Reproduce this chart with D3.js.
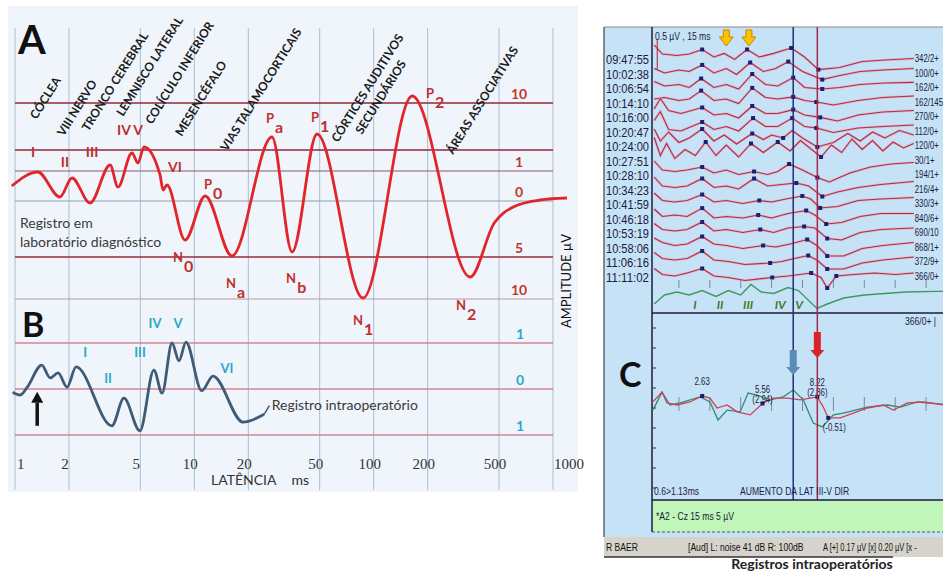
<!DOCTYPE html>
<html>
<head>
<meta charset="utf-8">
<script src="https://cdn.jsdelivr.net/npm/d3@7"></script>
<style>
  body { margin: 0; background: #fff; }
  text { font-family: Lato, "Open Sans", sans-serif; }
  .narrow { font-family: "Liberation Sans Narrow", "Arial Narrow", "Liberation Sans", sans-serif; }
</style>
</head>
<body>
<script>
// ---- data: schematic panels A / B ----
const latencyTicks = [1, 2, 5, 10, 20, 50, 100, 200, 500, 1000];

// amplitude reference lines (schematic µV)
const rowsA = [9.8, 5.1, 3, 0, -5.6, -9.8];
const rowLabelsA = ["10", "", "1", "0", "5", "10"];
const rowsB = [1, 0, -1];
const rowLabelsB = ["1", "0", "1"];

// waveform A, laboratory recording: [latency ms, amplitude]
const waveA = [[0.96,1.5],[1.34,2.9],[1.78,0.4],[2.08,2.3],[2.62,-0.2],[3.39,3.6],[3.75,1.4],[4.49,4.8],
  [4.85,3.8],[5.24,5.4],[6.44,2.6],[6.69,1.1],[7.04,1.6],[8.87,-3.9],[11.5,0.5],[16.2,-5.5],[27.1,6.4],
  [35.1,-5.1],[48.3,6.7],[87.2,-9.7],[164,10.5],[345,-7.6],[470,-2.2],[600,-0.6],[847,0.1],[1197,0.3]];

// waveform B, intraoperative recording
const waveB = [[0.97,-0.07],[1.07,-0.13],[1.17,0.04],[1.41,0.52],[1.57,0.24],[1.74,0.35],[1.95,0.04],
  [2.19,0.48],[3.47,-0.8],[4.05,-0.2],[4.97,-0.91],[5.95,0.41],[6.61,-0.09],[7.51,1.0],[8.21,0.61],
  [8.98,1.02],[11.0,-0.04],[12.7,0.28],[18.7,-0.72],[24.5,-0.55]];
const leaderB = [[24.5,-0.55],[26.2,-0.36]];

// wave labels
const romanA = ["I", "II", "III", "IV V", "VI"];
const romanPosA = [[1.26,4.4],[1.9,3.4],[2.69,4.4],[4.38,6.6],[7.8,2.9]];
const compMainA = ["P", "N", "N", "P", "N", "P", "N", "P", "N"];
const compSubA = ["0", "0", "a", "a", "b", "1", "1", "2", "2"];
const compPosA = [[11.9,1.2],[8.0,-6.1],[15.8,-8.7],[26.4,7.8],[34.2,-8.2],[47.1,7.9],[80.7,-12.4],[206,10.3],[303,-10.9]];
const romanB = ["I", "II", "III", "IV", "V", "VI"];
const romanPosB = [[2.46,0.7],[3.3,0.13],[4.98,0.7],[6.04,1.33],[8.11,1.33],[15.2,0.35]];

// anatomical generators (rotated labels), anchor [ms, µV]
const anatomyNames = ["CÓCLEA", "VIII NERVO", "TRONCO CEREBRAL", "LEMNISCO LATERAL", "COLÍCULO INFERIOR",
  "MESENCÉFALO", "VIAS TALAMOCORTICAIS", "CÓRTICES AUDITIVOS", "SECUNDÁRIOS", "ÁREAS ASSOCIATIVAS"];
const anatomyPos = [[1.32,8.1],[1.87,6.4],[2.57,6.9],[4.0,8.4],[5.8,7.6],[8.5,6.4],[15.2,4.9],[63.2,5.8],[86.1,6.6],[277,4.6]];

// ---- data: panel C (intraoperative screen) ----
const cTimes = ["09:47:55","10:02:38","10:06:54","10:14:10","10:16:00","10:20:47","10:24:00","10:27:51",
  "10:28:10","10:34:23","10:41:59","10:46:18","10:53:19","10:58:06","11:06:16","11:11:02"];
const cCounts = ["342/2+","100/0+","162/0+","162/145","270/0+","112/0+","120/0+","30/1+",
  "194/1+","216/4+","330/3+","840/6+","690/10","868/1+","372/9+","366/0+"];
// each sweep: [ms, µV]
const cTraces = [
  [[0.3,0.4],[0.7,0.1],[1.4,0.05],[2.0,0.1],[2.63,0.25],[3.2,0.0],[3.7,0.12],[4.2,-0.08],[4.81,0.25],[5.4,0.0],[6.1,0.12],[6.95,0.3],[7.6,0.0],[8.27,-0.42],[9.3,-0.35],[10.4,-0.15],[11.5,-0.1],[12.9,-0.05]],
  [[0.3,0.1],[0.8,-0.05],[1.5,0.05],[2.0,0.0],[2.63,0.22],[3.2,-0.05],[3.8,0.1],[4.3,-0.1],[4.96,0.3],[5.6,0.0],[6.2,0.1],[6.81,0.33],[7.5,0.0],[8.46,-0.27],[9.2,-0.15],[10.3,0.0],[11.4,0.05],[12.9,0.1]],
  [[0.3,0.15],[0.8,0.0],[1.5,0.05],[2.0,-0.05],[2.58,0.25],[3.2,-0.05],[3.8,0.05],[4.4,-0.1],[5.06,0.4],[5.7,0.05],[6.3,0.0],[7.05,0.28],[7.6,-0.05],[8.46,-0.1],[9.3,-0.05],[10.3,0.05],[11.5,0.1],[12.9,0.12]],
  [[0.3,0.05],[0.8,0.1],[1.5,0.0],[2.0,0.05],[2.58,0.33],[3.2,0.0],[3.8,0.05],[4.4,-0.1],[5.06,0.42],[5.7,0.1],[6.3,0.05],[7.05,0.12],[7.6,0.0],[8.17,-0.05],[9.0,-0.15],[10.2,0.0],[11.4,0.1],[12.9,0.15]],
  [[0.3,0.2],[0.6,0.55],[1.0,0.15],[1.6,0.05],[2.63,0.25],[3.2,0.0],[3.8,0.05],[4.4,-0.1],[5.06,0.3],[5.7,0.05],[6.3,0.05],[7.05,0.18],[7.6,0.0],[8.36,-0.08],[9.2,-0.2],[10.2,0.0],[11.4,0.1],[12.9,0.15]],
  [[0.3,0.3],[0.6,0.6],[1.0,0.0],[1.6,-0.05],[2.63,0.25],[3.2,0.0],[3.8,0.1],[4.4,-0.05],[5.1,0.38],[5.7,0.1],[6.3,0.1],[7.0,0.38],[7.6,0.1],[8.17,0.05],[9.0,-0.1],[10.2,0.05],[11.4,0.1],[12.9,0.15]],
  [[0.3,0.5],[0.6,0.1],[1.0,0.4],[1.5,0.05],[2.0,0.2],[2.63,0.5],[3.2,0.1],[3.7,0.3],[4.3,0.0],[5.06,0.35],[5.6,0.15],[6.0,0.3],[6.56,0.2],[7.0,0.45],[7.5,0.2],[8.22,-0.1],[9.0,0.05],[9.7,0.35],[10.3,0.1],[10.9,0.4],[11.5,0.2],[12.2,0.45],[12.9,0.3]],
  [[0.3,0.7],[0.6,0.1],[0.9,0.5],[1.3,0.0],[1.8,0.3],[2.3,0.1],[2.8,0.55],[3.3,0.1],[3.8,0.45],[4.4,0.05],[5.0,0.5],[5.6,0.2],[6.3,0.55],[6.9,0.25],[7.4,0.6],[8.4,0.05],[8.9,0.45],[9.4,0.2],[9.9,0.65],[10.4,0.3],[10.9,0.6],[11.4,0.25],[11.9,0.55],[12.4,0.35],[12.9,0.5]],
  [[0.3,0.4],[0.7,0.1],[1.3,0.05],[1.9,0.1],[2.63,0.2],[3.2,0.0],[3.8,0.1],[4.4,-0.05],[5.15,0.05],[5.8,-0.05],[6.3,0.05],[6.85,0.3],[7.5,0.1],[8.22,-0.15],[8.8,-0.3],[9.8,0.0],[10.8,0.2],[11.8,0.3],[12.9,0.35]],
  [[0.3,0.35],[0.7,0.05],[1.3,0.0],[1.9,0.05],[2.63,0.3],[3.2,0.0],[3.8,0.05],[4.4,-0.05],[5.15,0.3],[5.8,0.05],[6.5,0.1],[7.2,0.15],[7.8,0.05],[8.46,-0.3],[9.2,-0.15],[10.2,0.0],[11.3,0.1],[12.9,0.2]],
  [[0.3,0.3],[0.7,0.05],[1.3,0.0],[1.9,0.05],[2.63,0.25],[3.2,0.0],[3.8,0.05],[4.6,-0.05],[5.4,0.05],[6.0,0.0],[6.7,0.1],[7.49,0.2],[7.9,0.1],[8.36,-0.2],[9.2,-0.15],[10.2,0.05],[11.3,0.1],[12.9,0.15]],
  [[0.3,0.25],[0.7,0.0],[1.3,0.05],[1.9,0.0],[2.63,0.28],[3.2,-0.05],[3.8,0.0],[4.6,-0.05],[5.35,0.05],[6.0,-0.05],[6.8,0.1],[7.68,0.2],[8.1,0.05],[8.65,-0.25],[9.4,-0.2],[10.3,0.0],[11.3,0.1],[12.9,0.1]],
  [[0.3,0.25],[0.7,0.05],[1.3,0.0],[1.9,0.05],[2.63,0.3],[3.2,0.0],[3.8,0.05],[4.6,-0.05],[5.45,0.05],[6.1,-0.05],[6.8,0.1],[7.58,0.15],[8.1,0.1],[8.7,-0.25],[9.4,-0.3],[10.3,-0.05],[11.3,0.05],[12.9,0.1]],
  [[0.3,0.25],[0.7,0.1],[1.3,0.0],[1.9,0.05],[2.63,0.3],[3.2,0.05],[3.8,0.0],[4.6,-0.1],[5.59,0.0],[6.2,-0.05],[6.9,0.05],[7.73,0.2],[8.2,0.0],[8.7,-0.35],[9.5,-0.35],[10.4,-0.1],[11.4,0.0],[12.9,0.1]],
  [[0.3,0.25],[0.7,0.05],[1.3,0.0],[1.9,0.05],[2.63,0.3],[3.2,0.0],[3.9,-0.05],[4.7,-0.15],[5.93,-0.1],[6.5,-0.05],[7.1,0.05],[7.78,0.15],[8.2,0.0],[8.7,-0.3],[9.5,-0.3],[10.4,-0.1],[11.4,0.0],[12.9,0.1]],
  [[0.3,0.2],[0.7,0.0],[1.3,-0.05],[1.9,0.05],[2.63,0.2],[3.2,-0.05],[3.9,-0.1],[4.7,-0.2],[6.03,-0.1],[6.8,-0.05],[7.92,0.05],[8.4,-0.1],[8.7,-0.45],[9.14,-0.05],[10.0,0.0],[11.0,0.05],[12.0,0.0],[12.9,0.05]]
];
// indices of the marked peaks in each sweep
const cDots = [[4,8,11,13],[4,8,11,13],[4,8,11,13],[4,8,11,13],[4,8,11,13],[4,8,11,13],[5,9,12,15],[6,10,12,15],
  [4,8,11,13],[4,8,11,13],[4,8,11,13],[4,8,11,13],[4,8,11,13],[4,8,11,13],[4,8,11,13],[4,8,10,12,13]];

// grand average (green) and its wave labels
const greenTrace = [[0.3,-0.3],[0.8,0.0],[1.4,0.1],[2.0,0.0],[2.63,0.15],[3.3,-0.05],[3.9,0.15],[4.5,0.0],[5.0,0.35],
  [5.5,0.1],[6.1,0.05],[6.8,0.25],[7.3,0.15],[8.2,-0.45],[8.7,-0.3],[9.5,-0.1],[10.5,0.0],[11.5,0.05],[12.5,0.1],[14.0,0.12],[15.0,0.12]];
const greenRoman = ["I", "II", "III", "IV", "V"];
const greenRomanT = [2.28, 3.5, 4.86, 6.42, 7.34];

// lower window: current (red) vs baseline (green)
const avgRed = [[0.19,0.07],[0.68,0.43],[0.92,0.07],[1.41,0],[2.04,0.1],[2.63,0.3],[3.01,0.23],[3.35,-0.1],[3.84,0],
  [4.33,-0.23],[4.96,-0.33],[5.56,0.05],[6.08,0.23],[6.76,0.23],[7.39,0.17],[8.22,0.27],[8.51,-0.07],[8.75,-0.43],
  [9.33,-0.43],[9.97,-0.27],[10.65,-0.1],[11.42,0],[11.91,-0.17],[12.59,0.07],[13.37,0.1],[14.34,0],[15,0.02]];
const avgGreen = [[0.24,-0.17],[0.68,0.43],[1.07,0],[1.56,0.07],[2.53,0.27],[3.01,0.1],[3.4,-0.5],[3.84,-0.17],
  [4.47,-0.23],[4.86,0.4],[5.3,0.33],[5.93,0.17],[6.56,0.27],[7.05,0.5],[7.54,0.17],[8.02,-0.6],[8.46,-0.73],
  [9.0,-0.33],[9.48,-0.27],[10.65,-0.07],[11.62,0],[12.25,-0.07],[13.08,0.1],[14.34,0.03],[15,0.03]];
const avgMarkIdx = [5, 11, 15, 17];
const avgMarkTop = ["2.63", "5.56", "8.22", ""];
const avgMarkLow = ["", "(2.94)", "(2.86)", "(-0.51)"];
const cursorT = [7.05, 8.22];     // blue (V) and red cursors, ms
const yellowT = [3.8, 4.9];       // markers on top

// ---- scales ----
const width = 943, height = 572;
const xL = d3.scaleLog().domain([1, 1000]).range([15, 553]);
const yA = d3.scaleLinear().domain([-10, 10]).range([301, 101]);
const yB = d3.scaleLinear().domain([-1, 1]).range([435, 343]);
const xC = d3.scaleLinear().domain([0, 15]).range([648, 957]);
const rowC = d3.scalePoint().domain(cTimes).range([60, 277.5]);
const ampC = d3.scaleLinear().domain([0, 1]).range([0, -30]);

const svg = d3.select("body").append("svg")
    .attr("width", width).attr("height", height)
    .style("display", "block");

// ================= panels A / B =================
svg.append("rect").attr("x", 8).attr("y", 6).attr("width", 570).attr("height", 486).attr("fill", "#eff5fb");

// vertical latency grid
svg.append("g").selectAll("line").data(latencyTicks).join("line")
    .attr("x1", d => xL(d)).attr("x2", d => xL(d))
    .attr("y1", 28).attr("y2", 490)
    .attr("stroke", "#a9bdd1").attr("stroke-width", 1);

// horizontal amplitude lines
const rowStyleA = ["#8e2a38", "#8e2a38", "#8a5a66", "#8fa0b4", "#9a2a3a", "#b99aa8"];
svg.append("g").selectAll("line").data(rowsA).join("line")
    .attr("x1", xL(1)).attr("x2", xL(1000))
    .attr("y1", d => yA(d)).attr("y2", d => yA(d))
    .attr("stroke", (d, i) => rowStyleA[i])
    .attr("stroke-width", (d, i) => (i === 0 || i === 1 || i === 4) ? 1.6 : 1.1);
svg.append("g").selectAll("line").data(rowsB).join("line")
    .attr("x1", xL(1)).attr("x2", xL(1000))
    .attr("y1", d => yB(d)).attr("y2", d => yB(d))
    .attr("stroke", "#d48494").attr("stroke-width", 1.4);

// amplitude labels on the right
svg.append("g").selectAll("text").data(rowsA).join("text")
    .attr("x", 519).attr("y", d => yA(d) - 4)
    .attr("text-anchor", "middle")
    .style("font-size", "14px").style("font-weight", "bold").attr("fill", "#c0392b")
    .text((d, i) => rowLabelsA[i]);
svg.append("g").selectAll("text").data(rowsB).join("text")
    .attr("x", 520).attr("y", d => yB(d) - 4)
    .attr("text-anchor", "middle")
    .style("font-size", "14px").style("font-weight", "bold").attr("fill", "#2aa9c9")
    .text((d, i) => rowLabelsB[i]);

// x axis labels
svg.append("g").selectAll("text").data(latencyTicks).join("text")
    .attr("x", (d, i) => i === 0 ? xL(d) + 2 : (i === latencyTicks.length - 1 ? xL(d) + 1 : xL(d) - 4))
    .attr("y", 469)
    .attr("text-anchor", (d, i) => (i === 0 || i === latencyTicks.length - 1) ? "start" : "middle")
    .style("font-family", "'Liberation Serif', 'DejaVu Serif', serif").style("font-size", "15px")
    .attr("fill", "#333")
    .text(d => d);
svg.append("text").attr("x", 211).attr("y", 485)
    .style("font-size", "14px").attr("fill", "#333")
    .text("LATÊNCIA").append("tspan").attr("dx", 15).text("ms");

// y axis title
svg.append("text")
    .attr("transform", "translate(571,281) rotate(-90)")
    .attr("text-anchor", "middle")
    .style("font-size", "13px").attr("fill", "#111")
    .text("AMPLITUDE µV");

// anatomical generators
svg.append("g").selectAll("text").data(anatomyPos).join("text")
    .attr("transform", d => `translate(${xL(d[0])},${yA(d[1])}) rotate(-58)`)
    .style("font-size", "12px").style("font-weight", "bold").attr("fill", "#1a1a1a")
    .text((d, i) => anatomyNames[i]);

// waveform A
const lineA = d3.line().x(d => xL(d[0])).y(d => yA(d[1])).curve(d3.curveMonotoneX);
svg.append("path").datum(waveA)
    .attr("d", lineA).attr("fill", "none")
    .attr("stroke", "#e1262b").attr("stroke-width", 2.8).attr("stroke-linejoin", "round");

// waveform B
const lineB = d3.line().x(d => xL(d[0])).y(d => yB(d[1])).curve(d3.curveMonotoneX);
svg.append("path").datum(waveB)
    .attr("d", lineB).attr("fill", "none")
    .attr("stroke", "#3f5b76").attr("stroke-width", 2.8).attr("stroke-linejoin", "round");
svg.append("path").datum(leaderB)
    .attr("d", d3.line().x(d => xL(d[0])).y(d => yB(d[1])))
    .attr("fill", "none").attr("stroke", "#3f5b76").attr("stroke-width", 1.5);

// wave labels A
svg.append("g").selectAll("text").data(romanPosA).join("text")
    .attr("x", d => xL(d[0])).attr("y", d => yA(d[1]))
    .attr("text-anchor", "middle")
    .style("font-size", "14px").style("font-weight", "bold").attr("fill", "#c0302e")
    .text((d, i) => romanA[i]);
const comp = svg.append("g").selectAll("text").data(compPosA).join("text")
    .attr("x", d => xL(d[0]) - 4).attr("y", d => yA(d[1]))
    .style("font-size", "13px").style("font-weight", "bold").attr("fill", "#c0302e")
    .text((d, i) => compMainA[i]);
comp.append("tspan").attr("dx", 1).attr("dy", 10).style("font-size", "16px")
    .text((d, i) => compSubA[i]);

// wave labels B
svg.append("g").selectAll("text").data(romanPosB).join("text")
    .attr("x", d => xL(d[0])).attr("y", d => yB(d[1]))
    .attr("text-anchor", "middle")
    .style("font-size", "13px").style("font-weight", "bold").attr("fill", "#2aa9c9")
    .text((d, i) => romanB[i]);

// stimulus arrow
const arrowX = xL(1.33);
svg.append("line").attr("x1", arrowX).attr("x2", arrowX)
    .attr("y1", yB(-0.8)).attr("y2", yB(-0.3))
    .attr("stroke", "#111").attr("stroke-width", 3.5);
svg.append("path")
    .attr("d", `M${arrowX - 6},${yB(-0.3)} L${arrowX},${yB(-0.3) - 11} L${arrowX + 6},${yB(-0.3)} Z`)
    .attr("fill", "#111");

// texts
svg.append("text").attr("x", 18).attr("y", 54)
    .style("font-size", "40px").style("font-weight", "bold").attr("fill", "#111").text("A");
svg.append("text").attr("x", 22).attr("y", 337)
    .style("font-size", "34px").style("font-weight", "bold").attr("fill", "#111").text("B");
svg.append("text").attr("x", 20).attr("y", 228)
    .style("font-size", "14px").attr("fill", "#3a3a3a").text("Registro em");
svg.append("text").attr("x", 20).attr("y", 247)
    .style("font-size", "14px").attr("fill", "#3a3a3a").text("laboratório diagnóstico");
svg.append("text").attr("x", xL(27)).attr("y", yB(-0.46))
    .style("font-size", "14px").attr("fill", "#3a3a3a").text("Registro intraoperatório");

// ================= panel C =================
const cLeft = 604, cAxis = 652, cTop = 27, cBottom = 537;
svg.append("rect").attr("x", cLeft).attr("y", cTop).attr("width", width - cLeft).attr("height", cBottom - cTop)
    .attr("fill", "#c6e2f7");
svg.append("line").attr("x1", cLeft).attr("x2", cLeft).attr("y1", cTop).attr("y2", cBottom)
    .attr("stroke", "#666").attr("stroke-width", 1.5);
svg.append("line").attr("x1", cLeft).attr("x2", width).attr("y1", cTop).attr("y2", cTop)
    .attr("stroke", "#8a8a8a").attr("stroke-width", 1);
svg.append("line").attr("x1", cAxis).attr("x2", cAxis).attr("y1", cTop).attr("y2", 532)
    .attr("stroke", "#1c1c3a").attr("stroke-width", 1.5);
svg.append("line").attr("x1", cAxis).attr("x2", width).attr("y1", 313).attr("y2", 313)
    .attr("stroke", "#1c1c3a").attr("stroke-width", 1.5);

// sweeps
const sweepLine = (base) => d3.line().x(d => xC(d[0])).y(d => base + ampC(d[1]));
const sweeps = svg.append("g");
cTraces.forEach((tr, i) => {
    const base = rowC(cTimes[i]) - 3;
    sweeps.append("path").datum(tr).attr("d", sweepLine(base))
        .attr("fill", "none").attr("stroke", "#efa3b5").attr("stroke-width", 2.6).attr("opacity", 0.7);
    sweeps.append("path").datum(tr).attr("d", sweepLine(base))
        .attr("fill", "none").attr("stroke", "#a8304c").attr("stroke-width", 1.1);
    sweeps.selectAll(null).data(cDots[i]).join("rect")
        .attr("x", k => xC(tr[k][0]) - 2).attr("y", k => base + ampC(tr[k][1]) - 2)
        .attr("width", 4).attr("height", 4).attr("fill", "#1b1f6e");
});
// calibration bar on first sweep
svg.append("line")
    .attr("x1", xC(0.45)).attr("x2", xC(0.45))
    .attr("y1", rowC(cTimes[0]) - 3 + ampC(0.6)).attr("y2", rowC(cTimes[0]) - 3 + ampC(-0.4))
    .attr("stroke", "#a8304c").attr("stroke-width", 1.1);

// grand average
const greenBase = 295;
svg.append("path").datum(greenTrace).attr("d", sweepLine(greenBase))
    .attr("fill", "none").attr("stroke", "#3d9a5c").attr("stroke-width", 1.4);
svg.append("g").selectAll("text").data(greenRomanT).join("text")
    .attr("x", d => xC(d)).attr("y", 309).attr("text-anchor", "middle")
    .style("font-size", "12px").style("font-weight", "bold").style("font-style", "italic")
    .attr("fill", "#3e7d2c")
    .text((d, i) => greenRoman[i]);

// time ticks on last sweep and on lower window
const tickT = d3.range(1.5, 15, 1.5);
svg.append("g").selectAll("line").data(tickT).join("line")
    .attr("x1", d => xC(d)).attr("x2", d => xC(d))
    .attr("y1", 280).attr("y2", 288).attr("stroke", "#7a8aa0").attr("stroke-width", 1);
svg.append("g").selectAll("line").data(tickT).join("line")
    .attr("x1", d => xC(d)).attr("x2", d => xC(d))
    .attr("y1", 397).attr("y2", 411).attr("stroke", "#7a8aa0").attr("stroke-width", 1);
svg.append("g").selectAll("line").data(d3.range(328, 500, 20)).join("line")
    .attr("x1", cAxis).attr("x2", cAxis + 4)
    .attr("y1", d => d).attr("y2", d => d).attr("stroke", "#333");

// timestamps and counts
svg.append("g").selectAll("text").data(cTimes).join("text")
    .attr("x", 649).attr("y", d => rowC(d) + 4)
    .attr("text-anchor", "end")
    .attr("textLength", 43).attr("lengthAdjust", "spacingAndGlyphs")
    .style("font-family", "'Liberation Sans', sans-serif")
    .style("font-size", "12px").attr("fill", "#1a1a3c")
    .text(d => d);
svg.append("g").selectAll("text").data(cCounts).join("text")
    .attr("class", "narrow tight")
    .attr("x", xC(12.95)).attr("y", (d, i) => rowC(cTimes[i]) + 2)
    .style("font-size", "11.5px").attr("fill", "#1a1a3c")
    .text(d => d);
svg.append("text").attr("class", "narrow").attr("x", 655).attr("y", 40)
    .style("font-size", "11px").attr("fill", "#1a1a3c").text("0.5 µV , 15 ms");
svg.append("text").attr("class", "narrow").attr("x", 905).attr("y", 325)
    .style("font-size", "11px").attr("fill", "#1a1a3c").text("366/0+ |");

// yellow markers
svg.append("g").selectAll("path").data(yellowT).join("path")
    .attr("d", d => {
        const x = xC(d);
        return `M${x - 3},30 L${x + 3},30 L${x + 3},37 L${x + 7},37 L${x},46 L${x - 7},37 L${x - 3},37 Z`;
    })
    .attr("fill", "#f7c600").attr("stroke", "#d47f00").attr("stroke-width", 1);

// lower window traces
const avgBase = 405;
svg.append("path").datum(avgGreen).attr("d", sweepLine(avgBase))
    .attr("fill", "none").attr("stroke", "#2f8f6a").attr("stroke-width", 1.3);
svg.append("path").datum(avgRed).attr("d", sweepLine(avgBase))
    .attr("fill", "none").attr("stroke", "#d0405a").attr("stroke-width", 1.3);
svg.append("g").selectAll("rect").data(avgMarkIdx).join("rect")
    .attr("x", k => xC(avgRed[k][0]) - 2).attr("y", k => avgBase + ampC(avgRed[k][1]) - 2)
    .attr("width", 4).attr("height", 4).attr("fill", "#1b1f6e");
svg.append("g").selectAll("text").data(avgMarkIdx).join("text")
    .attr("class", "narrow")
    .attr("x", k => xC(avgRed[k][0])).attr("y", k => avgBase + ampC(avgRed[k][1]) - 11)
    .attr("text-anchor", "middle").style("font-size", "10px").attr("fill", "#1a1a3c")
    .text((k, i) => avgMarkTop[i]);
svg.append("g").selectAll("text").data(avgMarkIdx).join("text")
    .attr("class", "narrow")
    .attr("x", (k, i) => xC(avgRed[k][0]) + (i === 3 ? 6 : 0))
    .attr("y", (k, i) => avgBase + ampC(avgRed[k][1]) + (i === 3 ? 13 : -1))
    .attr("text-anchor", "middle").style("font-size", "10px").attr("fill", "#1a1a3c")
    .text((k, i) => avgMarkLow[i]);

// cursors
svg.append("line").attr("x1", xC(cursorT[0])).attr("x2", xC(cursorT[0]))
    .attr("y1", cTop).attr("y2", 500).attr("stroke", "#1f3278").attr("stroke-width", 1.5);
svg.append("line").attr("x1", xC(cursorT[1])).attr("x2", xC(cursorT[1]))
    .attr("y1", cTop).attr("y2", 500).attr("stroke", "#a32a4a").attr("stroke-width", 1.5);

// cursor arrows
const downArrow = (x, y0, y1) =>
    `M${x - 3.5},${y0} L${x + 3.5},${y0} L${x + 3.5},${y1 - 8} L${x + 7},${y1 - 8} L${x},${y1} L${x - 7},${y1 - 8} L${x - 3.5},${y1 - 8} Z`;
svg.append("path").attr("d", downArrow(xC(cursorT[0]), 350, 375)).attr("fill", "#5b8bb8");
svg.append("path").attr("d", downArrow(xC(cursorT[1]), 332, 358)).attr("fill", "#d8232a");

// big C
svg.append("text").attr("x", 619).attr("y", 387)
    .style("font-size", "34px").style("font-weight", "bold").attr("fill", "#111").text("C");

// bottom info of the window
svg.append("text").attr("class", "narrow").attr("x", 654).attr("y", 495)
    .style("font-size", "11px").attr("fill", "#1a1a50").text("0.6>1.13ms");
svg.append("text").attr("class", "narrow").attr("x", 740).attr("y", 495)
    .style("font-size", "11px").attr("fill", "#1a1a50").text("AUMENTO DA LAT III-V DIR");
svg.append("line").attr("x1", cAxis).attr("x2", width).attr("y1", 500).attr("y2", 500)
    .attr("stroke", "#1c1c3a").attr("stroke-width", 1.5);
svg.append("rect").attr("x", cAxis + 1).attr("y", 501).attr("width", width - cAxis).attr("height", 31)
    .attr("fill", "#c0f6b8");
svg.append("line").attr("x1", cAxis).attr("x2", width).attr("y1", 532).attr("y2", 532)
    .attr("stroke", "#556").attr("stroke-dasharray", "3,2");
svg.append("text").attr("class", "narrow").attr("x", 656).attr("y", 520)
    .style("font-size", "11px").attr("fill", "#1a1a3c").text("*A2 - Cz 15 ms 5 µV");

// status bar
svg.append("rect").attr("x", cLeft).attr("y", cBottom).attr("width", width - cLeft).attr("height", 20)
    .attr("fill", "#d6d3cc");
svg.append("line").attr("x1", cLeft).attr("x2", 893).attr("y1", 557).attr("y2", 557)
    .attr("stroke", "#333").attr("stroke-width", 1.5);
svg.append("text").attr("class", "narrow").attr("x", 606).attr("y", 551)
    .style("font-size", "11px").attr("fill", "#111").text("R BAER");
svg.append("text").attr("class", "narrow").attr("x", 688).attr("y", 551)
    .style("font-size", "11px").attr("fill", "#111").text("[Aud] L: noise 41 dB  R: 100dB");
svg.append("text").attr("class", "narrow tight").attr("x", 823).attr("y", 551)
    .style("font-size", "11px").attr("fill", "#111").text("A [+] 0.17 µV  [x] 0.20 µV  [x -");
svg.append("text").attr("x", 812).attr("y", 569)
    .attr("text-anchor", "middle")
    .style("font-size", "14px").style("font-weight", "bold").attr("fill", "#222")
    .text("Registros intraoperatórios");

// squeeze the screen texts to a narrow face
svg.selectAll("text.narrow").each(function() {
    const w = this.getComputedTextLength();
    const k = d3.select(this).classed("tight") ? 0.68 : 0.78;
    d3.select(this).attr("textLength", w * k).attr("lengthAdjust", "spacingAndGlyphs");
});
</script>
</body>
</html>
